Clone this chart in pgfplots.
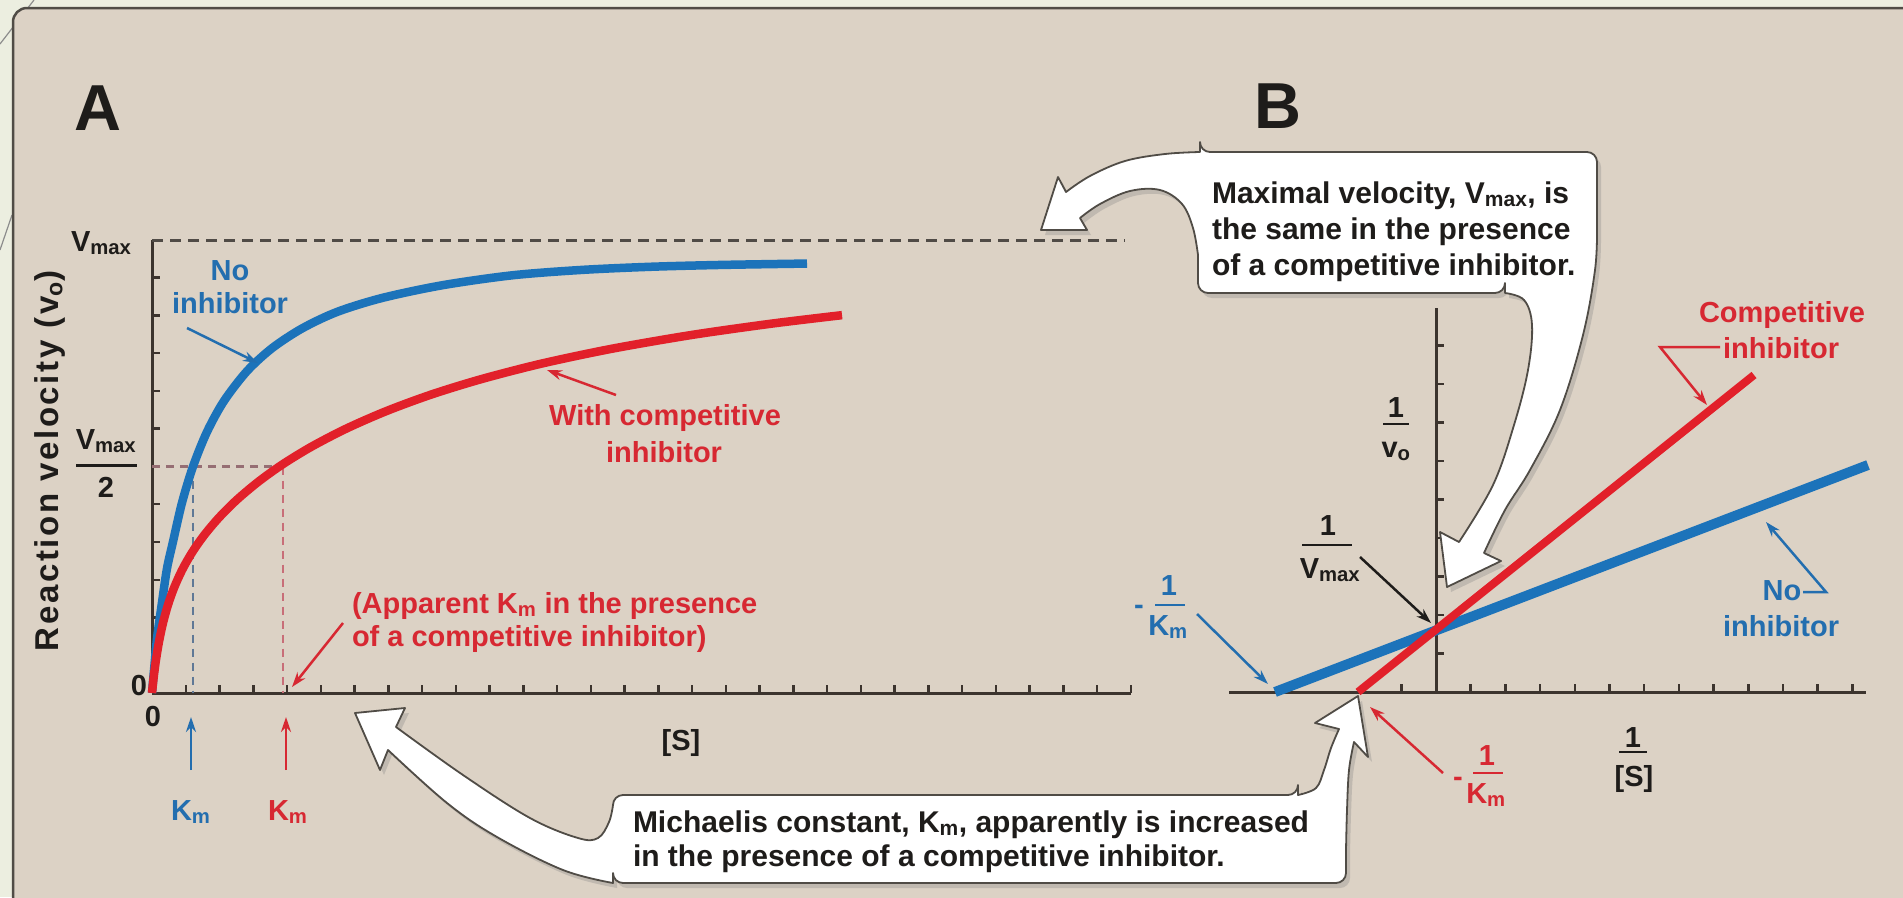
\documentclass[border=0pt]{standalone}
\usepackage{fontspec}
\setmainfont{Liberation Sans}
\usepackage{pgfplots}
\pgfplotsset{compat=1.18}
\usetikzlibrary{arrows.meta,shadows}
\definecolor{bg}{RGB}{220,210,197}
\definecolor{outerc}{RGB}{236,238,224}
\definecolor{framec}{RGB}{80,76,70}
\definecolor{cblue}{RGB}{28,115,186}
\definecolor{cred}{RGB}{226,32,42}
\definecolor{tblue}{RGB}{35,110,175}
\definecolor{tred}{RGB}{215,40,50}
\definecolor{axc}{RGB}{60,52,46}
\definecolor{txt}{RGB}{30,28,26}
\definecolor{dashgray}{RGB}{80,75,70}
\definecolor{dashmauve}{RGB}{150,110,115}
\definecolor{dashblue}{RGB}{95,120,150}
\definecolor{dashred}{RGB}{200,110,120}
\newcommand{\sub}[1]{\textsubscript{#1}}
\begin{document}
\begin{tikzpicture}[x=1pt,y=-1pt,
  every node/.style={inner sep=0pt, outer sep=0pt, text=txt, font=\bfseries\fontsize{29}{33}\selectfont},
  ann/.style={line width=2.5pt, -{Stealth[length=15pt,width=10pt]}},
  callout/.style={fill=white, draw=framec, line width=1.8pt, line join=round,
     drop shadow={shadow xshift=4pt, shadow yshift=-5pt, opacity=0.3}}]
\useasboundingbox (0,0) rectangle (1903,897);
\begin{scope}
\clip (0,0) rectangle (1903,897);
\fill[outerc] (0,0) rectangle (1903,897);
\draw[black!45, line width=1.2pt] (34,0) -- (0,44);
\draw[black!45, line width=1.2pt] (12,215) -- (0,250);
\draw[framec, line width=2.5pt, fill=bg, rounded corners=14pt] (13,8) rectangle (1950,950);
\end{scope}

\begin{scope}[x=1pt,y=1pt]
% ---------------- Panel A ----------------
\begin{axis}[at={(152pt,-693pt)}, anchor=south west, scale only axis,
  width=979pt, height=453pt, xmin=0, xmax=979, ymin=0, ymax=1,
  axis lines=left, axis line style={-, axc, line width=3pt},
  tick style={axc, line width=2.5pt}, tick align=inside, major tick length=8pt,
  xtick={33.75,67.5,...,979}, ytick={0.08333,0.16667,...,0.95},
  xticklabels={}, yticklabels={}, clip=false]
\addplot[dashgray, line width=3pt, dash pattern=on 11pt off 7pt] coordinates {(0,1) (973,1)};
\addplot[dashmauve, line width=2.2pt, dash pattern=on 8pt off 6pt] coordinates {(0,0.5) (131,0.5)};
\addplot[dashblue, line width=2.2pt, dash pattern=on 8pt off 6pt] coordinates {(41,0.5) (41,0)};
\addplot[dashred, line width=2.2pt, dash pattern=on 8pt off 6pt] coordinates {(131,0.5) (131,0)};
\addplot[cblue, line width=8.5pt, smooth, tension=0.5] coordinates {
(0,0) (2,0.05) (5,0.12) (10,0.20) (15,0.275) (21,0.334) (30,0.42) (41,0.50) (55,0.5765)
(72,0.6447) (95,0.7105) (120,0.7611) (150,0.8047) (185,0.8412) (230,0.872) (290,0.900)
(360,0.922) (430,0.934) (500,0.941) (570,0.945) (655,0.948)};
\addplot[cred, line width=8.5pt, smooth, tension=0.5] coordinates {
(0,0) (1,0.0214) (2,0.0405) (4,0.0736) (7,0.1134) (11,0.1547) (16,0.1946) (22,0.2319)
(30,0.2711) (40,0.3100) (52,0.3479) (67,0.3872) (85,0.4268) (107,0.4675) (131,0.5054)
(160,0.5444) (195,0.5844) (235,0.6229) (280,0.6594) (330,0.6933) (390,0.7274)
(460,0.7600) (540,0.7905) (620,0.8155) (690,0.8341)};
\end{axis}

% ---------------- Panel B ----------------
\begin{axis}[at={(1229pt,-692pt)}, anchor=south west, scale only axis,
  width=637pt, height=384pt, xmin=-207, xmax=430, ymin=0, ymax=384,
  axis lines=middle, axis line style={-, axc, line width=3pt},
  tick style={axc, line width=2.5pt}, tick align=inside, major tick length=8pt,
  xtick={-34.7,34.7,69.4,104.1,138.8,173.5,208.2,242.9,277.6,312.3,347,381.7,416.4},
  ytick={38.5,77,115.5,154,192.5,231,269.5,308,346.5},
  xticklabels={}, yticklabels={}, clip=false]
\addplot[cblue, line width=10pt] coordinates {(-161,0) (432,227)};
\addplot[cred, line width=8pt] coordinates {(-78,0) (318,317)};
\end{axis}
\end{scope}

% ---------------- Callouts ----------------
\path[callout] (1041,230) -- (1087,230) -- (1080,218)
 -- plot[smooth,tension=0.6] coordinates {(1080,218) (1100,204) (1130,191) (1160,190) (1182,204) (1193,228) (1198,255)}
 [rounded corners=10pt] -- (1198,293) -- (1505,293) [sharp corners]
 -- plot[smooth,tension=0.6] coordinates {(1505,293) (1524,300) (1532,325) (1528,370) (1514,425) (1493,485) (1459,542)}
 -- (1440,532) -- (1447,587) -- (1501,561) -- (1484,553)
 -- plot[smooth,tension=0.6] coordinates {(1484,553) (1505,510) (1530,470) (1560,410) (1583,335) (1595,270) (1597,230)}
 [rounded corners=10pt] -- (1597,152) -- (1200,152) [sharp corners]
 -- plot[smooth,tension=0.6] coordinates {(1200,152) (1165,154) (1125,161) (1090,176) (1066,192)}
 -- (1058,177) -- cycle;

\path[callout] (355,713) -- (405,708) -- (396,727)
 -- plot[smooth,tension=0.6] coordinates {(396,727) (463,775) (530,818) (578,838) (598,838) (609,822) (613,805)}
 [rounded corners=10pt] -- (613,795) -- (1298,795) [sharp corners]
 -- plot[smooth,tension=0.6] coordinates {(1298,795) (1316,788) (1324,770) (1331,748) (1339,729)}
 -- (1315,723) -- (1358,696) -- (1368,757) -- (1354,742)
 -- plot[smooth,tension=0.6] coordinates {(1354,742) (1349,770) (1347,810) (1346,850)}
 [rounded corners=10pt] -- (1346,883) -- (613,883) [sharp corners]
 -- plot[smooth,tension=0.6] coordinates {(613,883) (563,870) (497,837) (447,803) (388,750)}
 -- (380,770) -- cycle;

\begin{scope}[every node/.append style={font=\bfseries\fontsize{30}{34}\selectfont}]
\node[anchor=base west] at (1212,203) {Maximal velocity, V\sub{max}, is};
\node[anchor=base west] at (1212,239) {the same in the presence};
\node[anchor=base west] at (1212,275) {of a competitive inhibitor.};
\node[anchor=base west] at (633,832) {Michaelis constant, K\sub{m}, apparently is increased};
\node[anchor=base west] at (633,866) {in the presence of a competitive inhibitor.};
\end{scope}

% ---------------- Panel A labels ----------------
\node[anchor=base west, font=\bfseries\fontsize{65}{65}\selectfont] at (74,130) {A};
\node[anchor=base west] at (71,251) {V\sub{max}};
\node[anchor=base] at (106,449) {V\sub{max}};
\draw[txt, line width=3pt] (76,465) -- (137,465);
\node[anchor=base] at (106,497) {2};
\node[anchor=base east] at (147,695) {0};
\node[anchor=north] at (153,706) {0};
\node[rotate=90, font=\bfseries\fontsize{33}{33}\selectfont\addfontfeature{LetterSpace=8}] at (50,461) {Reaction velocity (v\sub{o})};

\node[anchor=base, text=tblue] at (230,280) {No};
\node[anchor=base, text=tblue] at (230,313) {inhibitor};
\draw[ann, tblue] (187,328) -- (258,363);

\node[anchor=base, text=tred] at (665,425) {With competitive};
\node[anchor=base, text=tred] at (664,462) {inhibitor};
\draw[ann, tred] (616,395) -- (547,370);

\node[anchor=base west, text=tred] at (352,613) {(Apparent K\sub{m} in the presence};
\node[anchor=base west, text=tred] at (352,646) {of a competitive inhibitor)};
\draw[ann, tred] (343,623) -- (292,687);

\node[anchor=base] at (681,750) {[S]};
\draw[ann, tblue] (191,770) -- (191,717);
\draw[ann, tred] (286,770) -- (286,717);
\node[anchor=base west, text=tblue] at (171,820) {K\sub{m}};
\node[anchor=base west, text=tred] at (268,820) {K\sub{m}};

% ---------------- Panel B labels ----------------
\node[anchor=base west, font=\bfseries\fontsize{65}{65}\selectfont] at (1254,128) {B};

\node[anchor=base] at (1396,417) {1};
\draw[txt, line width=2.5pt] (1383,424) -- (1409,424);
\node[anchor=base] at (1396,457) {v\sub{o}};

\node[anchor=base] at (1328,535) {1};
\draw[txt, line width=2.5pt] (1302,545) -- (1352,545);
\node[anchor=base] at (1330,578) {V\sub{max}};
\draw[ann, txt] (1360,557) -- (1431,623);

\node[anchor=base, text=tblue] at (1139,614) {-};
\node[anchor=base, text=tblue] at (1169,595) {1};
\draw[tblue, line width=2.5pt] (1155,605) -- (1185,605);
\node[anchor=base, text=tblue] at (1168,635) {K\sub{m}};
\draw[ann, tblue] (1197,614) -- (1268,684);

\node[anchor=base, text=tred] at (1458,786) {-};
\node[anchor=base, text=tred] at (1487,765) {1};
\draw[tred, line width=2.5pt] (1473,773) -- (1503,773);
\node[anchor=base, text=tred] at (1486,803) {K\sub{m}};
\draw[ann, tred] (1443,773) -- (1370,707);

\node[anchor=base] at (1633,747) {1};
\draw[txt, line width=2.5pt] (1619,752) -- (1647,752);
\node[anchor=base] at (1634,786) {[S]};

\node[anchor=base, text=tred] at (1782,322) {Competitive};
\node[anchor=base, text=tred] at (1781,358) {inhibitor};
\draw[tred, line width=2.5pt, -{Stealth[length=15pt,width=10pt]}] (1720,347) -- (1660,347) -- (1707,405);

\node[anchor=base, text=tblue] at (1782,600) {No};
\node[anchor=base, text=tblue] at (1781,636) {inhibitor};
\draw[tblue, line width=2.5pt, -{Stealth[length=15pt,width=10pt]}] (1803,592) -- (1826,592) -- (1766,522);
\end{tikzpicture}
\end{document}
